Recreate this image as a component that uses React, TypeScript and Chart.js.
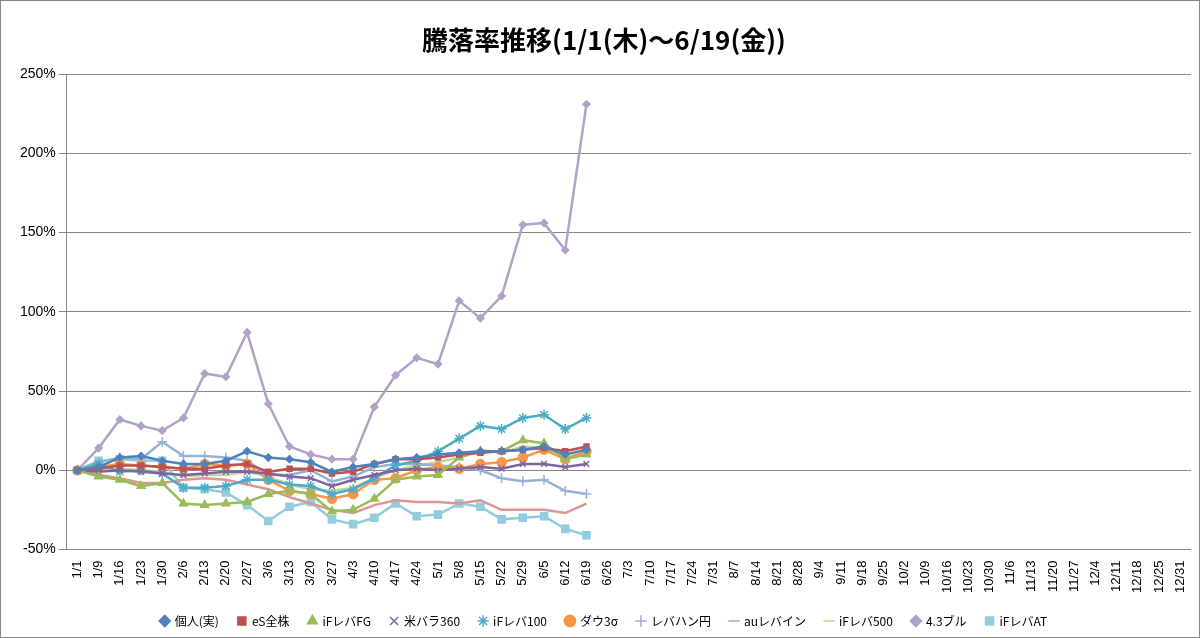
import React, { useEffect, useRef } from "react";
import { Chart, registerables } from "chart.js";
Chart.register(...registerables);

const categories = ["1/1","1/9","1/16","1/23","1/30","2/6","2/13","2/20","2/27","3/6","3/13","3/20","3/27","4/3","4/10","4/17","4/24","5/1","5/8","5/15","5/22","5/29","6/5","6/12","6/19","6/26","7/3","7/10","7/17","7/24","7/31","8/7","8/14","8/21","8/28","9/4","9/11","9/18","9/25","10/2","10/9","10/16","10/23","10/30","11/6","11/13","11/20","11/27","12/4","12/11","12/18","12/25","12/31"];

const kojin = [0,2,8,9,6,4,4,6,12,8,7,5,-1,2,4,7,8,10,11,12,12,13,15,10,13];
const esZenkabu = [0,1,3,3,2,1,1,3,4,-1,1,1,-2,-1,4,7,7,8,10,11,12,13,14,12,15];
const ifFG = [0,-4,-6,-10,-8,-21,-22,-21,-20,-15,-13,-15,-26,-25,-18,-6,-4,-3,8,12,12,19,17,7,10];
const beiBara = [0,-1,0,-1,-2,-3,-2,-1,-1,-2,-4,-5,-10,-6,-3,0,1,0,1,2,1,4,4,2,4];
const if100 = [0,4,-1,0,-2,-11,-11,-10,-6,-6,-9,-10,-15,-12,-5,3,6,12,20,28,26,33,35,26,33];
const dow3 = [0,2,4,3,2,1,4,3,4,-6,-13,-15,-18,-15,-6,-5,0,2,1,4,5,8,13,7,12];
const rebahan = [0,5,8,7,18,9,9,8,6,-3,-3,0,-7,-4,2,4,4,3,2,0,-5,-7,-6,-13,-15];
const auRebain = [0,-3,-5,-8,-8,-6,-5,-6,-9,-12,-17,-21,-25,-27,-22,-19,-20,-20,-21,-19,-25,-25,-25,-27,-21];
const if500 = [0,0,1,0,-1,-4,-3,-3,-1,-4,-9,-12,-13,-11,-5,0,3,5,8,13,11,15,14,8,11];
const bull43 = [0,14,32,28,25,33,61,59,87,42,15,10,7,7,40,60,71,67,107,96,110,155,156,139,231];
const ifAT = [0,6,7,6,6,-11,-12,-14,-22,-32,-23,-20,-31,-34,-30,-21,-29,-28,-21,-23,-31,-30,-29,-37,-41];

const seriesNames = ["個人(実)","eS全株","iFレバFG","米バラ360","iFレバ100","ダウ3σ","レバハン円","auレバイン","iFレバ500","4.3ブル","iFレバAT"];

export default function App() {
  const ref = useRef<HTMLCanvasElement>(null);
  useEffect(() => {
    const mk = (label: string, data: number[], color: string, style: any, r: number) => ({
      label, data, borderColor: color, backgroundColor: color, pointStyle: style,
      pointRadius: r, pointHoverRadius: r, borderWidth: 2.5, tension: 0, pointBorderWidth: 1.5,
    });
    const chart = new Chart(ref.current!, {
      type: "line",
      data: {
        labels: categories,
        datasets: [
          mk(seriesNames[0], kojin, "#4F81BD", "rectRot", 3.5),
          mk(seriesNames[1], esZenkabu, "#C0504D", "rect", 3.5),
          mk(seriesNames[2], ifFG, "#9BBB59", "triangle", 4.5),
          mk(seriesNames[3], beiBara, "#8064A2", "crossRot", 4),
          mk(seriesNames[4], if100, "#4BACC6", "star", 5),
          mk(seriesNames[5], dow3, "#F79646", "circle", 4.5),
          mk(seriesNames[6], rebahan, "#95B3D7", "cross", 5),
          { ...mk(seriesNames[7], auRebain, "#D99694", "line", 0) },
          { ...mk(seriesNames[8], if500, "#C3D69B", "line", 0) },
          mk(seriesNames[9], bull43, "#B3A2C7", "rectRot", 3.5),
          mk(seriesNames[10], ifAT, "#93CDDD", "rect", 5),
        ],
      },
      options: {
        animation: false, responsive: false,
        layout: { padding: { left: 16, right: 8, top: 6, bottom: 0 } },
        plugins: {
          title: { display: true, text: "騰落率推移(1/1(木)～6/19(金))", color: "#000",
            font: { size: 26, weight: "bold", family: "'Noto Sans CJK JP', sans-serif" }, padding: { top: 18, bottom: 18 } },
          legend: { position: "bottom", labels: { usePointStyle: true, boxWidth: 8, boxHeight: 8, color: "#000", padding: 19,
            font: { size: 12, family: "'Noto Sans CJK JP', sans-serif" } } },
          tooltip: { enabled: false },
        },
        scales: {
          x: { offset: true, grid: { display: false, drawTicks: true, tickColor: "#888" }, border: { color: "#888" },
            ticks: { autoSkip: false, maxRotation: 90, minRotation: 90, color: "#000", font: { size: 13, family: "'Liberation Sans', sans-serif" } } },
          y: { min: -50, max: 250, grid: { color: "#888", tickColor: "#888" }, border: { color: "#888" },
            ticks: { stepSize: 50, color: "#000", callback: (v: any) => v + "%", font: { size: 14, family: "'Liberation Sans', sans-serif" } } },
        },
      },
    });
    return () => chart.destroy();
  }, []);
  return (
    <div style={{ position: "absolute", left: 0, top: 0, width: 1200, height: 638, background: "#fff", boxSizing: "border-box", border: "1px solid #888" }}>
      <canvas ref={ref} width={1198} height={636} />
    </div>
  );
}
